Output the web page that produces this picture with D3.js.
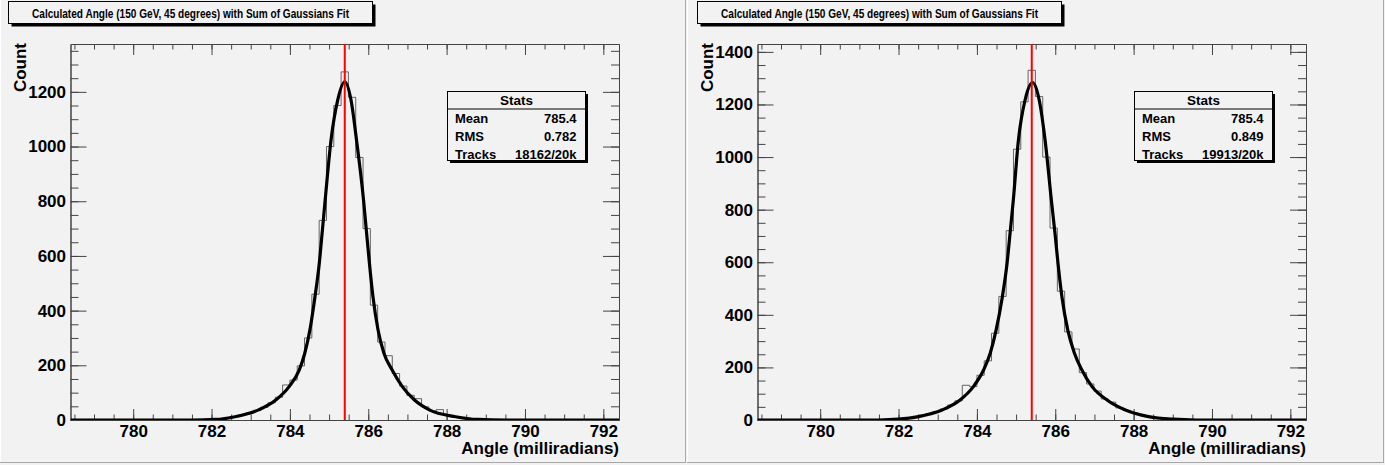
<!DOCTYPE html>
<html>
<head>
<meta charset="utf-8">
<script src="https://cdn.jsdelivr.net/npm/d3@7"></script>
<style>
  body { margin: 0; background: #f2f2f2; }
  text { font-family: "Liberation Sans", Arial, sans-serif; font-weight: bold; fill: #000; }
</style>
</head>
<body>
<script>
//Dados.
var titulo = "Calculated Angle (150 GeV, 45 degrees) with Sum of Gaussians Fit";
var rotuloX = "Angle (milliradians)";
var rotuloY = "Count";

//Eixo x (mrad) e bins do histograma.
var dominioX = [778.4, 792.4];
var ticksX = [780, 782, 784, 786, 788, 790, 792];
var binInicio = 778.4;
var binLargura = 0.18667;

//Painel esquerdo.
var maxYEsq = 1375;
var ticksYEsq = [0, 200, 400, 600, 800, 1000, 1200];
var contagensEsq = [0,0,0,0,0,0,0,0,0,0,0,0,0,0,0,0,0,
  1,1,2,5,8,12,18,26,35,46,63,83,128,146,198,300,460,730,1000,1150,1273,1180,960,700,
  420,285,235,170,124,90,78,48,33,38,17,12,8,5,2,1,
  0,0,0,0,0,0,0,0,0,0,0,0,0,0,0,0,0,0];
var ajusteXEsq = [778.4, 781.5, 782.1, 782.6, 783.2, 783.64, 783.98, 784.24, 784.38, 784.51, 784.64, 784.75, 784.83, 784.9, 785.05, 785.22, 785.4, 785.56, 785.7, 785.88, 785.95, 786.03, 786.12, 786.25, 786.4, 786.61, 786.87, 787.18, 787.56, 788.23, 788.8, 789.5, 792.4];
var ajusteYEsq = [0, 0, 2, 12, 37, 73, 122, 183, 244, 329, 451, 573, 695, 804, 1024, 1170, 1237, 1170, 1024, 804, 695, 573, 451, 329, 244, 183, 122, 73, 37, 12, 2, 0, 0];
var mediaEsq = 785.4, rmsEsq = "0.782", tracksEsq = "18162/20k";

//Painel direito.
var maxYDir = 1430;
var ticksYDir = [0, 200, 400, 600, 800, 1000, 1200, 1400];
var contagensDir = [0,0,0,0,0,0,0,0,0,0,0,0,0,0,0,0,0,
  1,2,3,6,10,18,24,32,42,57,73,132,127,170,225,330,470,720,1030,1210,1330,1230,1000,730,
  490,335,270,180,137,110,80,68,46,36,27,19,13,9,6,3,2,1,
  0,0,0,0,0,0,0,0,0,0,0,0,0,0,0,0];
var ajusteXDir = [778.4, 781.5, 782.0, 782.51, 783.11, 783.57, 783.91, 784.17, 784.34, 784.49, 784.65, 784.77, 784.84, 784.93, 785.06, 785.23, 785.42, 785.59, 785.74, 785.9, 786.0, 786.07, 786.17, 786.32, 786.49, 786.68, 786.94, 787.32, 787.79, 788.38, 789.0, 789.6, 792.4];
var ajusteYDir = [0, 0, 3, 13, 38, 76, 127, 190, 254, 342, 469, 596, 700, 837, 1065, 1217, 1283, 1217, 1065, 837, 700, 596, 469, 342, 254, 190, 127, 76, 38, 13, 3, 0, 0];
var mediaDir = 785.4, rmsDir = "0.849", tracksDir = "19913/20k";

//Dimensões do canvas e da área do gráfico (relativas ao painel).
var largura = 1385, altura = 465;
var area = {left: 70.5, right: 619, top: 44, bottom: 420};

var svg = d3.select("body").append("svg")
  .attr("width", largura)
  .attr("height", altura);

desenhaPainel(0, 687, 8.5, "esq", maxYEsq, ticksYEsq, contagensEsq, ajusteXEsq, ajusteYEsq, mediaEsq, rmsEsq, tracksEsq);
desenhaPainel(687, 698, 10.5, "dir", maxYDir, ticksYDir, contagensDir, ajusteXDir, ajusteYDir, mediaDir, rmsDir, tracksDir);

function desenhaPainel(offset, larguraPainel, tituloX, id, maxY, ticksY, contagens, ajX, ajY, media, rms, tracks) {
  var g = svg.append("g").attr("transform", "translate(" + offset + ",0)");

  //Borda do pad (efeito de relevo).
  g.append("line").attr("x1", 0.5).attr("y1", 0).attr("x2", 0.5).attr("y2", altura - 2)
    .attr("stroke", "#ffffff");
  g.append("line").attr("x1", larguraPainel - 1.5).attr("y1", 0).attr("x2", larguraPainel - 1.5).attr("y2", altura - 2)
    .attr("stroke", "#a8a8a8");
  g.append("line").attr("x1", 0).attr("y1", altura - 2.5).attr("x2", larguraPainel - 1).attr("y2", altura - 2.5)
    .attr("stroke", "#a8a8a8");

  //Escalas.
  var x = d3.scaleLinear().domain(dominioX).range([area.left, area.right]);
  var y = d3.scaleLinear().domain([0, maxY]).range([area.bottom, area.top]);

  //Clip da área do gráfico.
  g.append("clipPath").attr("id", "clip-" + id)
    .append("rect")
    .attr("x", area.left).attr("y", area.top)
    .attr("width", area.right - area.left).attr("height", area.bottom - area.top);

  //Ticks menores.
  var menoresX = d3.range(778.5, 792.41, 0.5);
  var menoresY = d3.range(0, maxY, 50);

  var eixos = g.append("g").attr("class", "eixos");

  //Eixo x inferior (rótulos) e superior.
  eixos.append("g").attr("transform", "translate(0," + area.bottom + ")")
    .call(d3.axisBottom(x).tickValues(menoresX).tickSize(-5.5).tickSizeOuter(0).tickFormat(""));
  eixos.append("g").attr("transform", "translate(0," + area.bottom + ")")
    .call(d3.axisBottom(x).tickValues(ticksX).tickSize(-11).tickSizeOuter(0).tickPadding(5)
      .tickFormat(d3.format("d")));
  eixos.append("g").attr("transform", "translate(0," + area.top + ")")
    .call(d3.axisTop(x).tickValues(menoresX).tickSize(-5.5).tickSizeOuter(0).tickFormat(""));
  eixos.append("g").attr("transform", "translate(0," + area.top + ")")
    .call(d3.axisTop(x).tickValues(ticksX).tickSize(-11).tickSizeOuter(0).tickFormat(""));

  //Eixo y esquerdo (rótulos) e direito.
  eixos.append("g").attr("transform", "translate(" + area.left + ",0)")
    .call(d3.axisLeft(y).tickValues(menoresY).tickSize(-8).tickSizeOuter(0).tickFormat(""));
  eixos.append("g").attr("transform", "translate(" + area.left + ",0)")
    .call(d3.axisLeft(y).tickValues(ticksY).tickSize(-16).tickSizeOuter(0).tickPadding(4.5)
      .tickFormat(d3.format("d")));
  eixos.append("g").attr("transform", "translate(" + area.right + ",0)")
    .call(d3.axisRight(y).tickValues(menoresY).tickSize(-8).tickSizeOuter(0).tickFormat(""));
  eixos.append("g").attr("transform", "translate(" + area.right + ",0)")
    .call(d3.axisRight(y).tickValues(ticksY).tickSize(-16).tickSizeOuter(0).tickFormat(""));

  eixos.selectAll("path.domain").attr("stroke", "#444");
  eixos.selectAll(".tick line").attr("stroke", "#444");
  eixos.selectAll(".tick text")
    .style("font-size", "17px")
    .style("font-family", "'Liberation Sans', Arial, sans-serif")
    .style("font-weight", "bold")
    .attr("fill", "#000");

  //Histograma em degraus.
  var degraus = [];
  contagens.forEach(function(c, k) {
    var x0 = binInicio + k * binLargura;
    degraus.push([x0, c]);
    degraus.push([x0 + binLargura, c]);
  });
  var linhaHist = d3.line()
    .x(function(d) { return x(d[0]); })
    .y(function(d) { return y(d[1]); });
  g.append("path")
    .datum(degraus)
    .attr("clip-path", "url(#clip-" + id + ")")
    .attr("d", linhaHist)
    .attr("fill", "none")
    .attr("stroke", "#555")
    .attr("stroke-width", 0.9);

  //Curva do ajuste (soma de gaussianas).
  var pontos = ajX.map(function(v, i) { return [v, ajY[i]]; });
  var linhaAjuste = d3.line()
    .curve(d3.curveMonotoneX)
    .x(function(d) { return x(d[0]); })
    .y(function(d) { return y(d[1]); });
  g.append("path")
    .datum(pontos)
    .attr("clip-path", "url(#clip-" + id + ")")
    .attr("d", linhaAjuste)
    .attr("fill", "none")
    .attr("stroke", "#000")
    .attr("stroke-width", 3.2)
    .attr("stroke-linejoin", "round");

  //Linha vermelha na média.
  g.append("line")
    .attr("x1", x(media)).attr("x2", x(media))
    .attr("y1", y(0)).attr("y2", area.top)
    .attr("stroke", "#ff0000")
    .attr("stroke-width", 2);

  //Rótulos dos eixos.
  g.append("text")
    .attr("x", area.right)
    .attr("y", 454)
    .style("text-anchor", "end")
    .style("font-size", "17px")
    .text(rotuloX);
  g.append("text")
    .attr("transform", "rotate(-90)")
    .attr("x", -43)
    .attr("y", 25.5)
    .style("text-anchor", "end")
    .style("font-size", "17px")
    .text(rotuloY);

  //Caixa do título com sombra.
  var caixaTitulo = {x: tituloX, y: 1.5, w: 364, h: 22};
  g.append("rect")
    .attr("x", caixaTitulo.x + 3).attr("y", caixaTitulo.y + 3)
    .attr("width", caixaTitulo.w).attr("height", caixaTitulo.h)
    .attr("fill", "#000");
  g.append("rect")
    .attr("x", caixaTitulo.x).attr("y", caixaTitulo.y)
    .attr("width", caixaTitulo.w).attr("height", caixaTitulo.h)
    .attr("fill", "#f2f2f2").attr("stroke", "#000").attr("stroke-width", 1);
  g.append("text")
    .attr("x", caixaTitulo.x + caixaTitulo.w / 2)
    .attr("y", 17.5)
    .attr("textLength", 317)
    .attr("lengthAdjust", "spacingAndGlyphs")
    .style("text-anchor", "middle")
    .style("font-size", "12.5px")
    .text(titulo);

  //Caixa de estatísticas.
  var st = {x: 447.5, y: 91.5, w: 138, h: 69};
  g.append("rect")
    .attr("x", st.x + 2.5).attr("y", st.y + 2.5)
    .attr("width", st.w).attr("height", st.h)
    .attr("fill", "#000");
  g.append("rect")
    .attr("x", st.x).attr("y", st.y)
    .attr("width", st.w).attr("height", st.h)
    .attr("fill", "#f2f2f2").attr("stroke", "#000").attr("stroke-width", 1);
  g.append("line")
    .attr("x1", st.x).attr("x2", st.x + st.w)
    .attr("y1", st.y + 17.5).attr("y2", st.y + 17.5)
    .attr("stroke", "#000");
  g.append("text")
    .attr("x", st.x + st.w / 2).attr("y", st.y + 13.5)
    .style("text-anchor", "middle")
    .style("font-size", "13.5px")
    .text("Stats");

  var linhas = [["Mean", d3.format(".1f")(media)], ["RMS", rms], ["Tracks", tracks]];
  linhas.forEach(function(l, i) {
    var yb = st.y + 31 + i * 18;
    g.append("text")
      .attr("x", st.x + 7.5).attr("y", yb)
      .style("font-size", "13px")
      .text(l[0]);
    g.append("text")
      .attr("x", st.x + st.w - 9).attr("y", yb)
      .style("text-anchor", "end")
      .style("font-size", "13px")
      .text(l[1]);
  });
}
</script>
</body>
</html>
